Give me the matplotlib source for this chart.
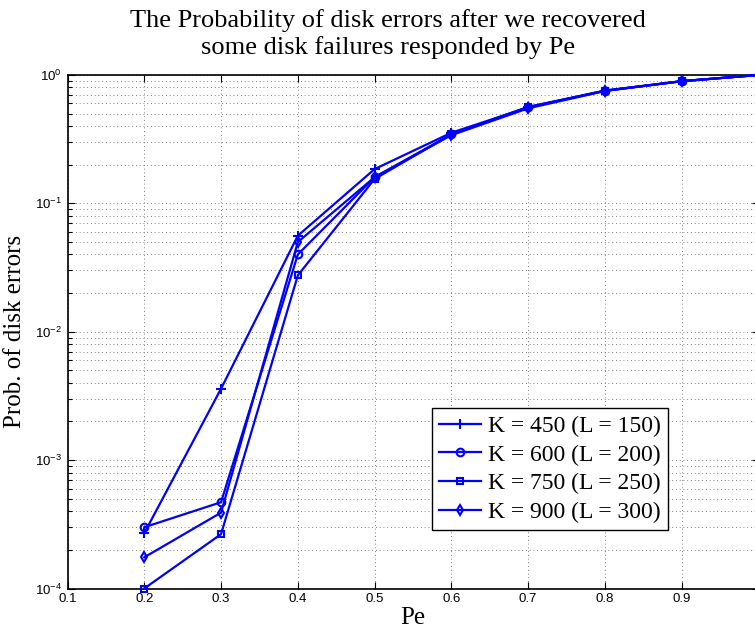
import matplotlib
matplotlib.use("Agg")
import matplotlib.pyplot as plt
from matplotlib.ticker import LogLocator, FixedLocator, NullFormatter

pe = [0.2, 0.3, 0.4, 0.5, 0.6, 0.7, 0.8, 0.9, 1.0]
k450 = [2.7e-4, 3.6e-3, 0.056, 0.185, 0.355, 0.56, 0.755, 0.895, 1.0]
k600 = [3.0e-4, 4.7e-4, 0.040, 0.160, 0.345, 0.565, 0.755, 0.895, 1.0]
k750 = [1.0e-4, 2.65e-4, 0.0275, 0.155, 0.345, 0.56, 0.755, 0.895, 1.0]
k900 = [1.75e-4, 3.9e-4, 0.050, 0.160, 0.34, 0.55, 0.75, 0.895, 1.0]
labels = ["K = 450 (L = 150)", "K = 600 (L = 200)", "K = 750 (L = 250)", "K = 900 (L = 300)"]
markers = ["+", "o", "s", "d"]
xticks = [0.1, 0.2, 0.3, 0.4, 0.5, 0.6, 0.7, 0.8, 0.9, 1.0]
xticklabels = ["0.1", "0.2", "0.3", "0.4", "0.5", "0.6", "0.7", "0.8", "0.9", "1"]

plt.rcParams['mathtext.fontset'] = 'custom'
plt.rcParams['mathtext.rm'] = 'Liberation Sans'
plt.rcParams['mathtext.it'] = 'Liberation Sans'
plt.rcParams['mathtext.default'] = 'regular'

fig = plt.figure(figsize=(7.55, 6.28), dpi=100)
ax = fig.add_axes([67.5/755, (628-588.5)/628, (758.5-67.5)/755, 513.5/628])

msizes = {"+": 7, "o": 5.5, "s": 5, "d": 5.5}
for ys, m, lab in zip([k450, k600, k750, k900], markers, labels):
    ax.plot(pe, ys, color=(0, 0, 1), lw=1.6, marker=m, markersize=msizes[m],
            markerfacecolor='none', markeredgecolor=(0, 0, 1), markeredgewidth=1.5, label=lab,
            clip_on=False, zorder=3)

ax.set_yscale('log')
ax.set_xlim(0.1, 1.0)
ax.set_ylim(1e-4, 1.0)
ax.xaxis.set_major_locator(FixedLocator(xticks))
ax.set_xticklabels(xticklabels)
ax.yaxis.set_major_locator(LogLocator(base=10, numticks=10))
ax.yaxis.set_minor_locator(LogLocator(base=10, subs=range(2, 10), numticks=20))
ax.yaxis.set_minor_formatter(NullFormatter())

ax.grid(True, which='major', axis='both', linestyle=(0, (1, 3.5)), color='#555555', lw=0.6)
ax.grid(True, which='minor', axis='y', linestyle=(0, (1, 3.5)), color='#555555', lw=0.6)

ax.tick_params(which='both', direction='in', top=True, right=True, labelsize=9.5,
               width=0.8, color='black')
ax.tick_params(which='major', length=5)
ax.tick_params(which='minor', length=3)
for lbl in ax.get_xticklabels() + ax.get_yticklabels():
    lbl.set_family('Liberation Sans')
ax.tick_params(axis='x', pad=3)
ax.tick_params(axis='y', pad=4)
for s in ax.spines.values():
    s.set_linewidth(1.2)

ax.set_xlabel("Pe", family='Liberation Serif', fontsize=18, labelpad=2)
ax.set_ylabel("Prob. of disk errors", family='Liberation Serif', fontsize=18, labelpad=6)

fig.text(388/755, 1 - 21/628, "The Probability of disk errors after we recovered",
         family='Liberation Serif', fontsize=19, ha='center', va='center')
fig.text(388/755, 1 - 48/628, "some disk failures responded by Pe",
         family='Liberation Serif', fontsize=19, ha='center', va='center')

leg = ax.legend(loc='lower left', bbox_to_anchor=(0.527, 0.114), prop={'family': 'Liberation Serif', 'size': 17},
                fancybox=False, edgecolor='black', framealpha=1, handlelength=1.8,
                labelspacing=0.3, borderpad=0.3, handletextpad=0.3, borderaxespad=0)
leg.get_frame().set_linewidth(1.0)

fig.savefig("out.png", dpi=100)
